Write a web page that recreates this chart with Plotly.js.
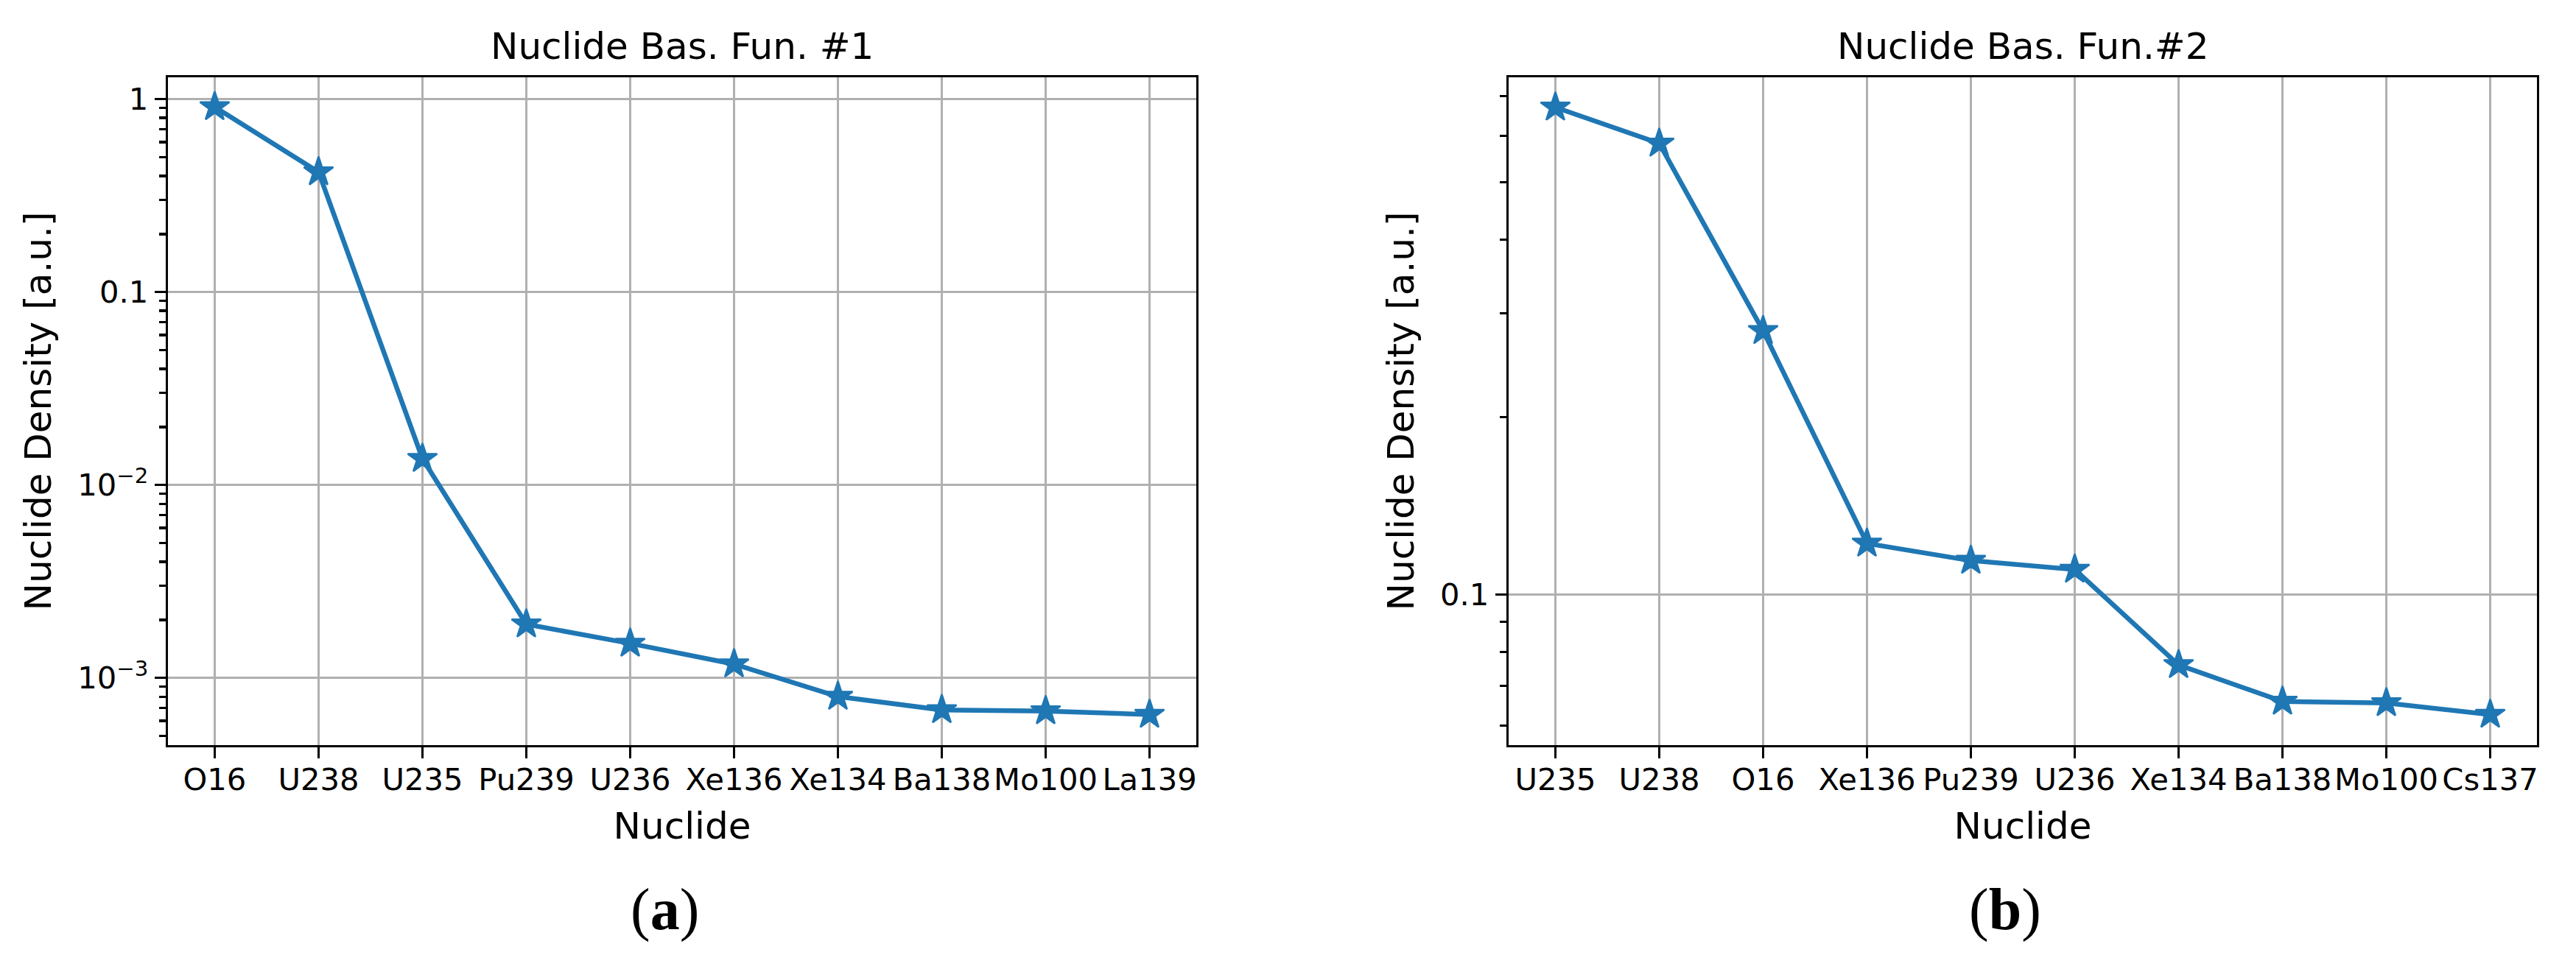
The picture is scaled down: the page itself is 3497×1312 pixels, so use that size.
<!DOCTYPE html>
<html>
<head>
<meta charset="utf-8">
<script src="https://cdn.plot.ly/plotly-3.0.1.min.js"></script>
<style>html,body{margin:0;padding:0;background:#fff;}#chart{width:3497px;height:1312px;}</style>
</head>
<body>
<div id="chart"></div>
<script>
// ---- data ----
const nuclidesA = ["O16","U238","U235","Pu239","U236","Xe136","Xe134","Ba138","Mo100","La139"];
const densityA  = [0.912, 0.419, 0.0137, 0.0019, 0.00151, 0.00118, 0.000801, 0.000683, 0.000674, 0.000646];
const nuclidesB = ["U235","U238","O16","Xe136","Pu239","U236","Xe134","Ba138","Mo100","Cs137"];
const densityB  = [0.670, 0.582, 0.280, 0.1221, 0.1142, 0.1103, 0.0760, 0.0659, 0.0655, 0.0626];
const titleA = "Nuclide Bas. Fun. #1";
const titleB = "Nuclide Bas. Fun.#2";
const xLabel = "Nuclide";
const yLabel = "Nuclide Density [a.u.]";
const yTickValsA = [0.001, 0.01, 0.1, 1];
const yTickTextA = ["10<sup>−3</sup>", "10<sup>−2</sup>", "0.1", "1"];
const yTickValsB = [0.1];
const yTickTextB = ["0.1"];

// ---- layout helpers ----
const W = 3497, H = 1312;
const px = v => v / W;
const py = v => 1 - v / H;
const blue = "#1f77b4";
const FONT = "DejaVu Sans, sans-serif";

// minor log ticks (2..9 in each decade), as matplotlib draws them
function minorLogTicks(expLo, expHi) {
  const out = [];
  for (let e = expLo; e <= expHi; e++) {
    for (let m = 2; m <= 9; m++) out.push(+(m * Math.pow(10, e)).toPrecision(6));
  }
  return out;
}

function trace(x, y, xa, ya) {
  return {
    x: x, y: y, xaxis: xa, yaxis: ya, type: "scatter", mode: "lines+markers",
    line: {color: blue, width: 6.5},
    marker: {symbol: "star", size: 30, color: blue, line: {color: blue, width: 2.5}},
    showlegend: false, hoverinfo: "x+y"
  };
}

function xAxis(dom, cats, anchor) {
  return {
    domain: dom, anchor: anchor, type: "category",
    categoryorder: "array", categoryarray: cats,
    range: [-0.45, cats.length - 1 + 0.45],
    showline: true, mirror: true, linecolor: "black", linewidth: 3.3,
    showgrid: true, gridcolor: "#b0b0b0", gridwidth: 3.3,
    ticks: "outside", ticklen: 15, tickwidth: 3.3, tickcolor: "black",
    ticklabelstandoff: -7,
    tickfont: {family: FONT, size: 41.7, color: "black"},
    zeroline: false, automargin: false,
    title: {text: xLabel, font: {family: FONT, size: 50, color: "black"}, standoff: 22}
  };
}

function yAxis(dom, range, tv, tt, anchor, standoff) {
  return {
    domain: dom, anchor: anchor, type: "log", range: range,
    tickmode: "array", tickvals: tv, ticktext: tt,
    showline: true, mirror: true, linecolor: "black", linewidth: 3.3,
    showgrid: true, gridcolor: "#b0b0b0", gridwidth: 3.3,
    ticks: "outside", ticklen: 15, tickwidth: 3.3, tickcolor: "black",
    tickfont: {family: FONT, size: 41.7, color: "black"},
    minor: {ticks: "outside", ticklen: 9, tickwidth: 3.3, tickcolor: "black",
            tickmode: "array", tickvals: minorLogTicks(-5, 1), showgrid: false},
    zeroline: false, automargin: false,
    title: {text: yLabel, font: {family: FONT, size: 50, color: "black"}, standoff: standoff}
  };
}

const yDom = [py(1012), py(105)];
const layout = {
  width: W, height: H,
  margin: {l: 0, r: 0, t: 0, b: 0, pad: 0},
  paper_bgcolor: "white", plot_bgcolor: "white",
  font: {family: FONT, color: "black"},
  xaxis: xAxis([px(228), px(1624)], nuclidesA, "y"),
  yaxis: yAxis(yDom, [-3.348, 0.1134], yTickValsA, yTickTextA, "x", 20),
  xaxis2: xAxis([px(2048), px(3444)], nuclidesB, "y2"),
  yaxis2: yAxis(yDom, [-1.2552, -0.123], yTickValsB, yTickTextB, "x2", 20),
  annotations: [
    {text: titleA, xref: "paper", yref: "paper", x: px(926), y: py(63), xanchor: "center", yanchor: "middle",
     showarrow: false, font: {family: FONT, size: 50, color: "black"}},
    {text: titleB, xref: "paper", yref: "paper", x: px(2746), y: py(63), xanchor: "center", yanchor: "middle",
     showarrow: false, font: {family: FONT, size: 50, color: "black"}},
    {text: "(<b>a</b>)", xref: "paper", yref: "paper", x: px(902), y: py(1235), xanchor: "center", yanchor: "middle",
     showarrow: false, font: {family: "Liberation Serif, serif", size: 80, color: "black"}},
    {text: "(<b>b</b>)", xref: "paper", yref: "paper", x: px(2722), y: py(1235), xanchor: "center", yanchor: "middle",
     showarrow: false, font: {family: "Liberation Serif, serif", size: 80, color: "black"}}
  ]
};

Plotly.newPlot("chart", [trace(nuclidesA, densityA, "x", "y"), trace(nuclidesB, densityB, "x2", "y2")], layout,
  {staticPlot: true, displayModeBar: false});
</script>
</body>
</html>
